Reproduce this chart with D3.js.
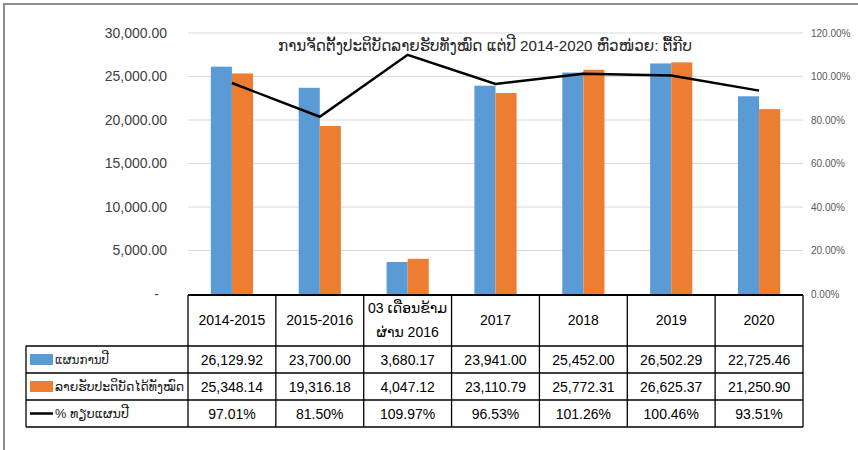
<!DOCTYPE html>
<html>
<head>
<meta charset="utf-8">
<script src="https://cdn.jsdelivr.net/npm/d3@7"></script>
<style>
  body { margin: 0; background: #fff; }
  svg text { font-family: "Liberation Sans", "DejaVu Sans", sans-serif; }
</style>
</head>
<body>
<svg id="chart" width="858" height="450"></svg>
<script>
// chart data
var categories = ["2014-2015", "2015-2016", "03 ເດືອນຂ້າມ\nຜ່ານ 2016", "2017", "2018", "2019", "2020"];
var planValues = [26129.92, 23700.00, 3680.17, 23941.00, 25452.00, 26502.29, 22725.46];
var actualValues = [25348.14, 19316.18, 4047.12, 23110.79, 25772.31, 26625.37, 21250.90];
var pctValues = [97.01, 81.50, 109.97, 96.53, 101.26, 100.46, 93.51];
var leftTicks = [0, 5000, 10000, 15000, 20000, 25000, 30000];
var rightTicks = [0, 20, 40, 60, 80, 100, 120];
var seriesNames = ["ແຜນການປີ", "ລາຍຮັບປະຕິບັດໄດ້ທັງໝົດ", "% ທຽບແຜນປີ"];
var title = "ການຈັດຕັ້ງປະຕິບັດລາຍຮັບທັງໝົດ ແຕ່ປີ 2014-2020 ຫົວໜ່ວຍ: ຕື້ກີບ";

var blue = "#5b9bd5", orange = "#ed7d31";

var svg = d3.select("#chart");

// outer frame (only top and left visible)
svg.append("path")
  .attr("d", "M4,450 L4,4 L858,4")
  .attr("fill", "none")
  .attr("stroke", "#8c8c8c")
  .attr("stroke-width", 2);

var plotLeft = 188, plotRight = 803, plotTop = 33, plotBottom = 294;

var x = d3.scaleBand().domain(d3.range(categories.length)).range([plotLeft, plotRight]);
var x1 = d3.scaleBand().domain([0, 1]).range([x.bandwidth() * 0.26, x.bandwidth() * 0.74]);
var y = d3.scaleLinear().domain([0, 30000]).range([plotBottom, plotTop]);
var y2 = d3.scaleLinear().domain([0, 120]).range([plotBottom, plotTop]);

// gridlines
svg.append("g")
  .selectAll("line")
  .data(leftTicks.slice(1))
  .enter().append("line")
  .attr("x1", plotLeft).attr("x2", plotRight)
  .attr("y1", d => y(d)).attr("y2", d => y(d))
  .attr("stroke", "#d9d9d9")
  .attr("stroke-width", 1);

// left axis
var fmt = d3.format(",.2f");
var leftAxis = d3.axisLeft(y).tickValues(leftTicks).tickSize(0).tickPadding(0)
  .tickFormat(d => d === 0 ? "-" : fmt(d));
var gl = svg.append("g").attr("transform", "translate(167,0)").call(leftAxis);
gl.select(".domain").remove();
gl.selectAll("text").attr("font-size", 14).attr("fill", "#404040")
  .attr("font-family", "Liberation Sans, sans-serif");
gl.selectAll("text").filter(d => d === 0).attr("dx", -8);

// right axis
var rightAxis = d3.axisRight(y2).tickValues(rightTicks).tickSize(0).tickPadding(0)
  .tickFormat(d => d.toFixed(2) + "%");
var gr = svg.append("g").attr("transform", "translate(811,0)").call(rightAxis);
gr.select(".domain").remove();
gr.selectAll("text").attr("font-size", 10).attr("fill", "#595959")
  .attr("font-family", "Liberation Sans, sans-serif");

// bars
var groups = svg.append("g").selectAll("g")
  .data(categories.map((c, i) => i))
  .enter().append("g")
  .attr("transform", i => "translate(" + x(i) + ",0)");

groups.append("rect")
  .attr("x", x1(0)).attr("width", x1.bandwidth())
  .attr("y", i => y(planValues[i]))
  .attr("height", i => y(0) - y(planValues[i]))
  .attr("fill", blue);

groups.append("rect")
  .attr("x", x1(1)).attr("width", x1.bandwidth())
  .attr("y", i => y(actualValues[i]))
  .attr("height", i => y(0) - y(actualValues[i]))
  .attr("fill", orange);

// percent line
var line = d3.line()
  .x((d, i) => x(i) + x.bandwidth() / 2)
  .y(d => y2(d));

svg.append("path")
  .datum(pctValues)
  .attr("d", line)
  .attr("fill", "none")
  .attr("stroke", "#000")
  .attr("stroke-width", 2.5);

// title
svg.append("text")
  .attr("x", 485).attr("y", 51)
  .attr("text-anchor", "middle")
  .attr("font-size", 15)
  .attr("fill", "#262626")
  .attr("textLength", 414)
  .attr("lengthAdjust", "spacingAndGlyphs")
  .text(title);

// data table
var tableTop = 295, headBottom = 346, rowH = 27, labelLeft = 26;
var rowsY = [headBottom, headBottom + rowH, headBottom + rowH * 2, headBottom + rowH * 3];
var labelWidths = [54, 129, 74];
var table = svg.append("g");

// header text
categories.forEach(function(c, i) {
  var parts = c.split("\n");
  var cx = x(i) + x.bandwidth() / 2;
  var t = table.append("text")
    .attr("x", cx)
    .attr("text-anchor", "middle")
    .attr("font-size", 14)
    .attr("fill", "#000");
  if (parts.length === 1) {
    t.attr("y", 325).text(parts[0]);
  } else {
    t.append("tspan").attr("x", cx).attr("y", 313).text(parts[0]);
    t.append("tspan").attr("x", cx).attr("y", 337).text(parts[1]);
  }
});

var rowData = [
  planValues.map(fmt),
  actualValues.map(fmt),
  pctValues.map(d => d.toFixed(2) + "%")
];

rowData.forEach(function(vals, r) {
  var cy = rowsY[r] + rowH / 2 + 5;
  vals.forEach(function(v, i) {
    table.append("text")
      .attr("x", x(i) + x.bandwidth() / 2)
      .attr("y", cy)
      .attr("text-anchor", "middle")
      .attr("font-size", 14)
      .attr("fill", "#000")
      .text(v);
  });
  table.append("text")
    .attr("x", 55).attr("y", cy - 1)
    .attr("font-size", 13)
    .attr("fill", "#1a1a1a")
    .attr("textLength", labelWidths[r])
    .attr("lengthAdjust", "spacingAndGlyphs")
    .text(seriesNames[r]);
});

// legend keys in the table
table.append("rect").attr("x", 30).attr("y", rowsY[0] + 8).attr("width", 23).attr("height", 11).attr("fill", blue);
table.append("rect").attr("x", 30).attr("y", rowsY[1] + 8).attr("width", 23).attr("height", 11).attr("fill", orange);
table.append("line").attr("x1", 30).attr("x2", 53)
  .attr("y1", rowsY[2] + rowH / 2).attr("y2", rowsY[2] + rowH / 2)
  .attr("stroke", "#000").attr("stroke-width", 2.5);

// table grid
var grid = table.append("g").attr("fill", "none").attr("stroke", "#000").attr("stroke-width", 1.3);
// top line of header (axis)
grid.append("line").attr("x1", plotLeft).attr("x2", plotRight).attr("y1", tableTop).attr("y2", tableTop).attr("stroke-width", 2);
// horizontal lines of body
rowsY.forEach(function(yy) {
  grid.append("line").attr("x1", labelLeft).attr("x2", plotRight).attr("y1", yy).attr("y2", yy);
});
// vertical lines
d3.range(categories.length + 1).forEach(function(i) {
  var xx = i < categories.length ? x(i) : plotRight;
  grid.append("line").attr("x1", xx).attr("x2", xx).attr("y1", tableTop).attr("y2", rowsY[3]);
});
grid.append("line").attr("x1", labelLeft).attr("x2", labelLeft).attr("y1", rowsY[0]).attr("y2", rowsY[3]);
</script>
</body>
</html>
